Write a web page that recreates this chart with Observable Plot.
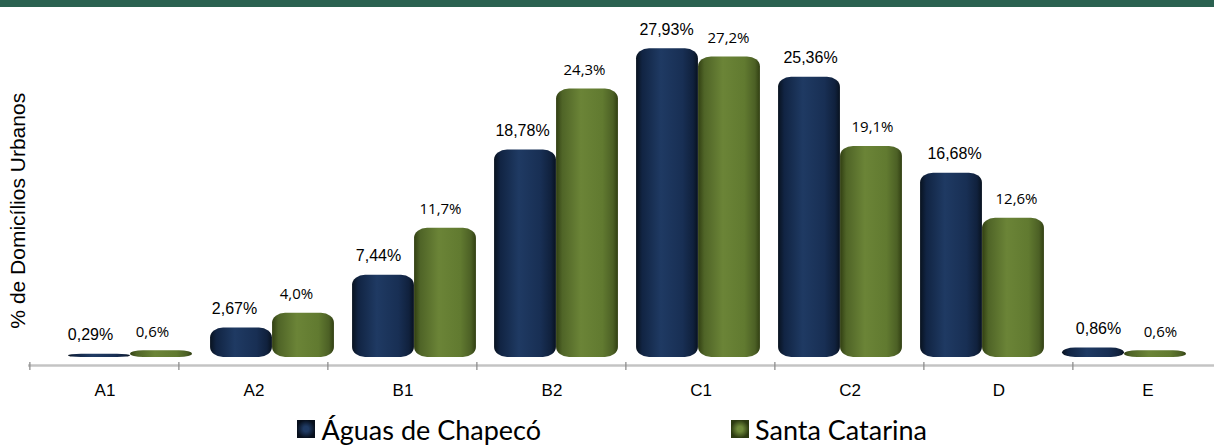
<!DOCTYPE html>
<html><head><meta charset="utf-8">
<script src="https://cdn.jsdelivr.net/npm/d3@7"></script>
<script src="https://cdn.jsdelivr.net/npm/@observablehq/plot@0.6"></script>
<style>
html,body{margin:0;padding:0;background:#fff;overflow:hidden;}
#page{position:relative;width:1214px;height:445px;overflow:hidden;}
#header{position:absolute;left:0;top:0;width:1214px;height:7px;background:#2a6150;}
#chart{position:absolute;left:0;top:7px;width:1214px;height:400px;}
#chart svg{position:absolute;left:0;top:0;}
#legend{position:absolute;left:0;top:407px;width:1214px;height:38px;}
</style></head><body>
<div id="page"><div id="header"></div><div id="chart"></div><div id="legend"></div></div>
<script>
// ---- data ----
const categories = ["A1", "A2", "B1", "B2", "C1", "C2", "D", "E"];
const aguas = [0.29, 2.67, 7.44, 18.78, 27.93, 25.36, 16.68, 0.86];
const santaCatarina = [0.6, 4.0, 11.7, 24.3, 27.2, 19.1, 12.6, 0.6];
const seriesNames = ["Águas de Chapecó", "Santa Catarina"];
const yLabel = "% de Domicílios Urbanos";

const rows = categories.map((c, i) => ({cat: c, a: aguas[i], s: santaCatarina[i]}));
const fmtA = v => v.toFixed(2).replace(".", ",") + "%";
const fmtS = v => v.toFixed(1).replace(".", ",") + "%";

const W = 1214, H = 400;
const chart = document.getElementById("chart");
const common = {width: W, height: H, style: "background: transparent; overflow: visible;"};

// ---- bars (perspective-compressed band layout) ----
const barRange = [58.95, 1196.05];
const barStep = (barRange[1] - barRange[0]) / categories.length;
const half = barStep / 2;
const barW = 62;

const barPlot = Plot.plot({
  ...common,
  marginTop: 18.5, marginBottom: 50, marginLeft: 0, marginRight: 0,
  x: {type: "band", domain: categories, range: barRange, padding: 0, axis: null},
  y: {domain: [0, 30], axis: null},
  marks: [
    Plot.barY(rows, {x: "cat", y: "a", fill: "url(#gNavy)", insetLeft: half - barW, insetRight: half, rx: 13, ry: 10}),
    Plot.barY(rows, {x: "cat", y: "s", fill: "url(#gGreen)", insetLeft: half, insetRight: half - barW, rx: 13, ry: 10}),
    Plot.text([yLabel], {frameAnchor: "left", textAnchor: "middle", rotate: -90, dx: 17.5, dy: 19,
      fontFamily: "Liberation Sans, Arial, sans-serif", fontSize: 21, fill: "#000"})
  ]
});
const defs = `
<defs>
 <linearGradient id="gNavy" x1="0" x2="1" y1="0" y2="0">
  <stop offset="0" stop-color="#08121f"/>
  <stop offset="0.1" stop-color="#112443"/>
  <stop offset="0.4" stop-color="#1f3a63"/>
  <stop offset="0.75" stop-color="#182f54"/>
  <stop offset="0.92" stop-color="#10213d"/>
  <stop offset="1" stop-color="#08121f"/>
 </linearGradient>
 <linearGradient id="gGreen" x1="0" x2="1" y1="0" y2="0">
  <stop offset="0" stop-color="#313f12"/>
  <stop offset="0.1" stop-color="#4f6427"/>
  <stop offset="0.4" stop-color="#6b8437"/>
  <stop offset="0.75" stop-color="#617a30"/>
  <stop offset="0.92" stop-color="#4c6025"/>
  <stop offset="1" stop-color="#313f12"/>
 </linearGradient>
</defs>`;
barPlot.insertAdjacentHTML("afterbegin", defs);
chart.appendChild(barPlot);

// ---- value labels ----
const labRange = [46.71, 1203.29];
const labelPlot = Plot.plot({
  ...common,
  marginTop: 18.5, marginBottom: 50, marginLeft: 0, marginRight: 0,
  x: {type: "band", domain: categories, range: labRange, padding: 0, axis: null},
  y: {domain: [0, 30], axis: null},
  marks: [
    Plot.text(rows, {x: "cat", y: "a", text: d => fmtA(d.a), dx: -31, dy: -14, lineAnchor: "bottom",
      fontFamily: "Liberation Sans, Arial, sans-serif", fontSize: 16, fill: "#000", style: "letter-spacing:0.8px"}),
    Plot.text(rows, {x: "cat", y: "s", text: d => fmtS(d.s), dx: 31, dy: -14, lineAnchor: "bottom",
      fontFamily: "Open Sans, sans-serif", fontSize: 15, fill: "#000", style: "letter-spacing:0.5px"})
  ]
});
chart.appendChild(labelPlot);

// ---- category axis ----
const axRange = [29, 1223];
const axStep = (axRange[1] - axRange[0]) / categories.length;
const axisPlot = Plot.plot({
  ...common,
  marginTop: 355, marginBottom: 37, marginLeft: 28, marginRight: 0,
  x: {type: "band", domain: categories, range: axRange, padding: 0, axis: null},
  y: {domain: [0, 1], axis: null},
  marks: [
    Plot.ruleY([1], {stroke: "#c4c4c4", strokeWidth: 2.5, dy: 3}),
    Plot.barY(categories, {x: d => d, y1: 0, y2: 1, fill: "#8c8c8c", insetLeft: -0.75, insetRight: axStep - 0.75}),
    Plot.text(categories, {x: d => d, frameAnchor: "bottom", lineAnchor: "top", dy: 13,
      fontFamily: "Liberation Sans, Arial, sans-serif", fontSize: 17, fill: "#000", style: "letter-spacing:1px"})
  ]
});
chart.appendChild(axisPlot);

// ---- legend ----
const leg = d3.select("#legend").append("svg").attr("width", W).attr("height", 38);
const ldefs = leg.append("defs");
[["lgNavy", "#1f3a63", "#070f1c"], ["lgGreen", "#6f8a3a", "#2c3a10"]].forEach(([id, c1, c2]) => {
  const g = ldefs.append("radialGradient").attr("id", id);
  g.append("stop").attr("offset", "0.3").attr("stop-color", c1);
  g.append("stop").attr("offset", "1").attr("stop-color", c2);
});
const items = [
  {name: seriesNames[0], sx: 297, tx: 321.5, grad: "url(#lgNavy)"},
  {name: seriesNames[1], sx: 731, tx: 755, grad: "url(#lgGreen)"}
];
items.forEach(it => {
  leg.append("rect").attr("x", it.sx).attr("y", 13).attr("width", 18).attr("height", 18).attr("fill", it.grad);
  leg.append("text").attr("x", it.tx).attr("y", 33).attr("font-family", "Lato, sans-serif")
    .attr("font-size", 27).attr("fill", "#000").text(it.name);
});
</script>
</body></html>
